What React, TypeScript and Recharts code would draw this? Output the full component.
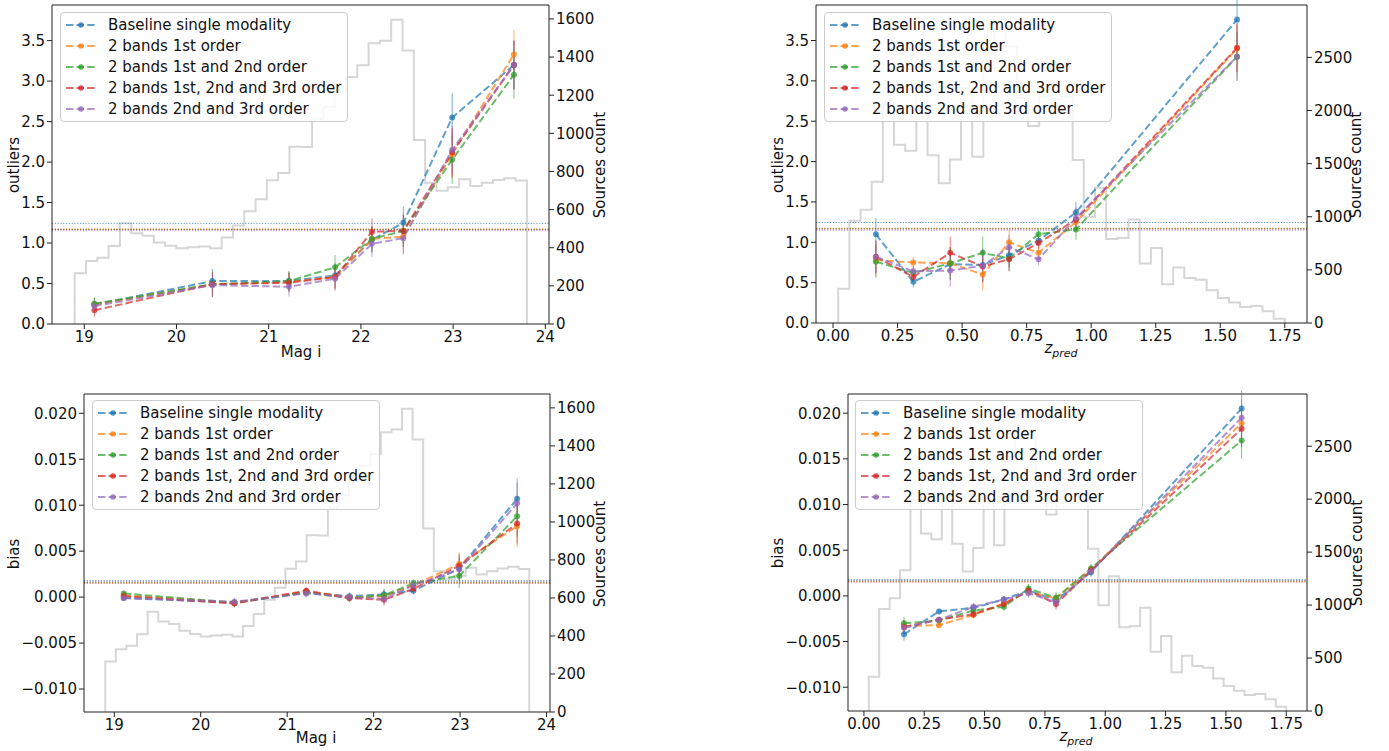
import React from 'react';
import { ComposedChart, Line, XAxis, YAxis, ErrorBar, ReferenceLine, Legend } from 'recharts';

const SERIES_NAMES = [
  'Baseline single modality',
  '2 bands 1st order',
  '2 bands 1st and 2nd order',
  '2 bands 1st, 2nd and 3rd order',
  '2 bands 2nd and 3rd order',
];
const COLORS = ['#1f77b4', '#ff7f0e', '#2ca02c', '#d62728', '#9467bd'];

// x positions of the binned points
const magX = [19.11, 20.39, 21.22, 21.72, 22.12, 22.46, 22.99, 23.66];
const zX = [0.166, 0.311, 0.454, 0.58, 0.682, 0.796, 0.941, 1.565];

// outliers vs Mag i
const magOutBaseline = [0.24, 0.53, 0.53, 0.6, 1.04, 1.25, 2.55, 3.2];
const magOut1st = [0.24, 0.49, 0.52, 0.58, 1.05, 1.08, 2.1, 3.33];
const magOut12 = [0.25, 0.49, 0.53, 0.7, 1.05, 1.15, 2.03, 3.08];
const magOut123 = [0.17, 0.49, 0.51, 0.58, 1.14, 1.15, 2.12, 3.2];
const magOut23 = [0.22, 0.48, 0.46, 0.56, 0.99, 1.06, 2.15, 3.2];
const magOutErr = [0.08, 0.15, 0.12, 0.15, 0.16, 0.2, 0.3, 0.3];
const magOutMeans = [1.243, 1.172, 1.168, 1.17, 1.152];

// outliers vs z_pred
const zOutBaseline = [1.1, 0.51, 0.73, 0.72, 0.84, 1.02, 1.37, 3.76];
const zOut1st = [0.78, 0.75, 0.74, 0.6, 1.0, 0.87, 1.25, 3.4];
const zOut12 = [0.76, 0.62, 0.74, 0.87, 0.8, 1.1, 1.16, 3.3];
const zOut123 = [0.82, 0.57, 0.87, 0.7, 0.79, 0.99, 1.28, 3.41];
const zOut23 = [0.82, 0.64, 0.65, 0.71, 0.94, 0.79, 1.3, 3.3];
const zOutErr = [0.2, 0.07, 0.2, 0.2, 0.15, 0.07, 0.13, 0.3];
const zOutMeans = [1.245, 1.175, 1.17, 1.165, 1.15];

// bias vs Mag i
const magBiasBaseline = [-0.0001, -0.0006, 0.0005, 0.0001, 0.0003, 0.0007, 0.0031, 0.0107];
const magBias1st = [0.0002, -0.0006, 0.0006, 0.0, 0.0001, 0.0013, 0.0036, 0.0077];
const magBias12 = [0.0004, -0.0006, 0.0005, -0.0001, 0.0002, 0.0015, 0.0023, 0.0088];
const magBias123 = [0.0001, -0.0007, 0.0007, -0.0001, -0.0003, 0.0009, 0.0034, 0.008];
const magBias23 = [-0.0001, -0.0005, 0.0004, 0.0, -0.0002, 0.0013, 0.003, 0.0102];
const magBiasErr = [0.0003, 0.0004, 0.0004, 0.0004, 0.0006, 0.0004, 0.0013, 0.0022];
const magBiasMeans = [0.00178, 0.00155, 0.00157, 0.00153, 0.00172];

// bias vs z_pred
const zBiasBaseline = [-0.0042, -0.0017, -0.0013, -0.0004, 0.0006, -0.0005, 0.0026, 0.0205];
const zBias1st = [-0.0033, -0.0032, -0.0021, -0.0008, 0.0005, -0.0003, 0.0029, 0.0189];
const zBias12 = [-0.003, -0.0027, -0.0016, -0.0012, 0.0008, -0.0002, 0.003, 0.017];
const zBias123 = [-0.0034, -0.0026, -0.002, -0.0009, 0.0006, -0.0009, 0.0028, 0.0183];
const zBias23 = [-0.0035, -0.0026, -0.0012, -0.0004, 0.0003, -0.0007, 0.0027, 0.0195];
const zBiasErr = [0.0007, 0.0003, 0.0004, 0.0004, 0.0005, 0.0006, 0.0005, 0.002];
const zBiasMeans = [0.00178, 0.0016, 0.00166, 0.00152, 0.00172];

// source count histograms (40 bins each)
const magRange = [18.896, 23.8];
const magCounts = [
  266, 330, 348, 409, 528, 476, 463, 428, 411, 397, 402, 406, 397, 453, 516, 591, 654, 754, 792, 930,
  928, 1075, 1140, 1219, 1296, 1357, 1472, 1486, 1595, 1434, 965, 741, 699, 717, 759, 724, 741, 755, 764, 752,
];
const zRange = [0.02, 1.75];
const zCounts = [
  323, 962, 1065, 1330, 2055, 1677, 1622, 2160, 1580, 1316, 1540, 2210, 1564, 2400, 2850, 2600, 2120, 1855, 2129, 2104,
  2126, 1533, 998, 1272, 790, 800, 974, 559, 707, 365, 522, 424, 408, 308, 236, 192, 151, 160, 110, 41,
];

// ticks
const magTicks = [19, 20, 21, 22, 23, 24];
const zTicks = [0, 0.25, 0.5, 0.75, 1.0, 1.25, 1.5, 1.75];
const outTicks = [0, 0.5, 1.0, 1.5, 2.0, 2.5, 3.0, 3.5];
const biasTicks = [-0.01, -0.005, 0, 0.005, 0.01, 0.015, 0.02];
const magCountTicks = [0, 200, 400, 600, 800, 1000, 1200, 1400, 1600];
const zCountTicks = [0, 500, 1000, 1500, 2000, 2500];

// histogram drawn as a step outline (matplotlib histtype="step")
function stepData(range: number[], counts: number[]) {
  const w = (range[1] - range[0]) / counts.length;
  const pts = [{ x: range[0], c: 0 }];
  counts.forEach((c, i) => pts.push({ x: range[0] + i * w, c }));
  pts.push({ x: range[1], c: 0 });
  return pts;
}

const fmt1 = (v: number) => v.toFixed(1);
const fmt2 = (v: number) => v.toFixed(2);
const fmtBias = (v: number) => (v < 0 ? '\u2212' : '') + Math.abs(v).toFixed(3);
const fmtInt = (v: number) => String(v);

const TICK = { fill: '#111', fontSize: 15 };
const AXIS = '#222';

const LegendBox = () => (
  <div
    style={{
      border: '1px solid #cccccc',
      borderRadius: 4,
      background: 'rgba(255,255,255,0.8)',
      padding: '2px 6px 2px 5px',
      fontSize: 15,
      color: '#111',
      fontFamily: '"DejaVu Sans", sans-serif',
    }}
  >
    {SERIES_NAMES.map((n, i) => (
      <div key={n} style={{ display: 'flex', alignItems: 'center', height: 20.8, whiteSpace: 'nowrap' }}>
        <svg width={30} height={10} style={{ marginRight: 12, flex: 'none' }}>
          <line x1={0} y1={5} x2={30} y2={5} stroke={COLORS[i]} strokeOpacity={0.7} strokeWidth={2} strokeDasharray="7.4 3.2" />
          <circle cx={15} cy={5} r={2.8} fill={COLORS[i]} fillOpacity={0.8} />
        </svg>
        <span>{n}</span>
      </div>
    ))}
  </div>
);

interface PanelProps {
  left: number;
  top: number;
  width: number;
  height: number;
  margin: { top: number; right: number; bottom: number; left: number };
  leftW: number;
  xH: number;
  xDomain: number[];
  xTicks: number[];
  xFmt: (v: number) => string;
  yDomain: number[];
  yTicks: number[];
  yFmt: (v: number) => string;
  rDomain: number[];
  rTicks: number[];
  hist: { x: number; c: number }[];
  xs: number[];
  series: number[][];
  err: number[];
  means: number[];
  legendAt: { left: number; top: number };
}

const Panel = (p: PanelProps) => (
  <div style={{ position: 'absolute', left: p.left, top: p.top }}>
    <ComposedChart width={p.width} height={p.height} margin={p.margin}>
      <XAxis
        xAxisId="b"
        dataKey="x"
        type="number"
        domain={p.xDomain}
        ticks={p.xTicks}
        tickFormatter={p.xFmt}
        interval={0}
        allowDataOverflow
        height={p.xH}
        stroke={AXIS}
        tick={TICK}
        tickSize={5}
      />
      <YAxis
        yAxisId="l"
        type="number"
        domain={p.yDomain}
        ticks={p.yTicks}
        tickFormatter={p.yFmt}
        interval={0}
        allowDataOverflow
        width={p.leftW}
        stroke={AXIS}
        tick={TICK}
        tickSize={5}
      />
      <YAxis
        yAxisId="r"
        orientation="right"
        type="number"
        domain={p.rDomain}
        ticks={p.rTicks}
        tickFormatter={fmtInt}
        interval={0}
        allowDataOverflow
        width={60}
        stroke={AXIS}
        tick={TICK}
        tickSize={5}
      />
      <Line
        xAxisId="b"
        yAxisId="r"
        data={p.hist}
        dataKey="c"
        type="stepAfter"
        stroke="#d6d6d6"
        strokeWidth={2}
        dot={false}
        activeDot={false}
        isAnimationActive={false}
      />
      {p.means.map((v, i) => (
        <ReferenceLine
          key={'m' + i}
          xAxisId="b"
          yAxisId="l"
          y={v}
          stroke={COLORS[i]}
          strokeWidth={1}
          strokeOpacity={0.75}
          strokeDasharray="1.2 1.6"
        />
      ))}
      {/* top spine */}
      <ReferenceLine xAxisId="b" yAxisId="l" y={p.yDomain[1]} stroke={AXIS} strokeWidth={1} />
      {p.series.map((ys, i) => (
        <Line
          key={'s' + i}
          xAxisId="b"
          yAxisId="l"
          data={p.xs.map((x, j) => ({ x, y: ys[j], e: p.err[j] }))}
          dataKey="y"
          type="linear"
          stroke={COLORS[i]}
          strokeOpacity={0.7}
          strokeWidth={2}
          strokeDasharray="7.4 3.2"
          dot={{ r: 3, fill: COLORS[i], fillOpacity: 0.75, stroke: 'none', strokeDasharray: '0' }}
          activeDot={false}
          isAnimationActive={false}
        >
          <ErrorBar dataKey="e" direction="y" width={0} stroke={COLORS[i]} strokeWidth={1} strokeOpacity={0.6} />
        </Line>
      ))}
      <Legend
        layout="vertical"
        align="center"
        verticalAlign="middle"
        wrapperStyle={{ left: p.legendAt.left, top: p.legendAt.top, width: 'auto', height: 'auto' }}
        content={() => <LegendBox />}
      />
    </ComposedChart>
  </div>
);

const Title = ({ x, y, rotate, children }: { x: number; y: number; rotate?: boolean; children: React.ReactNode }) => (
  <div
    style={{
      position: 'absolute',
      left: x,
      top: y,
      transform: `translate(-50%, -50%)${rotate ? ' rotate(-90deg)' : ''}`,
      fontSize: 15,
      lineHeight: 1,
      whiteSpace: 'nowrap',
      color: '#111',
    }}
  >
    {children}
  </div>
);

const ZPred = () => (
  <span>
    <i>z</i>
    <i style={{ fontSize: 11, verticalAlign: -4 }}>pred</i>
  </span>
);

export default function App() {
  const magHist = stepData(magRange, magCounts);
  const zHist = stepData(zRange, zCounts);
  const magDom = [18.65, 24.04];
  const zDom = [-0.066, 1.836];
  return (
    <div
      style={{
        position: 'absolute',
        left: 0,
        top: 0,
        width: 1389,
        height: 751,
        background: '#fff',
        overflow: 'hidden',
        fontFamily: '"DejaVu Sans", sans-serif',
      }}
    >
      <Panel
        left={0}
        top={0}
        width={625}
        height={375}
        margin={{ top: 5, right: 16, bottom: 6, left: 12 }}
        leftW={40}
        xH={45}
        xDomain={magDom}
        xTicks={magTicks}
        xFmt={fmtInt}
        yDomain={[0, 3.94]}
        yTicks={outTicks}
        yFmt={fmt1}
        rDomain={[0, 1673]}
        rTicks={magCountTicks}
        hist={magHist}
        xs={magX}
        series={[magOutBaseline, magOut1st, magOut12, magOut123, magOut23]}
        err={magOutErr}
        means={magOutMeans}
        legendAt={{ left: 60, top: 12 }}
      />
      <Panel
        left={760}
        top={0}
        width={629}
        height={375}
        margin={{ top: 5, right: 22, bottom: 7, left: 12 }}
        leftW={44}
        xH={45}
        xDomain={zDom}
        xTicks={zTicks}
        xFmt={fmt2}
        yDomain={[0, 3.94]}
        yTicks={outTicks}
        yFmt={fmt1}
        rDomain={[0, 2993]}
        rTicks={zCountTicks}
        hist={zHist}
        xs={zX}
        series={[zOutBaseline, zOut1st, zOut12, zOut123, zOut23]}
        err={zOutErr}
        means={zOutMeans}
        legendAt={{ left: 64, top: 12 }}
      />
      <Panel
        left={0}
        top={378}
        width={625}
        height={373}
        margin={{ top: 16, right: 15, bottom: 4, left: 12 }}
        leftW={72}
        xH={35}
        xDomain={magDom}
        xTicks={magTicks}
        xFmt={fmtInt}
        yDomain={[-0.0125, 0.0221]}
        yTicks={biasTicks}
        yFmt={fmtBias}
        rDomain={[0, 1673]}
        rTicks={magCountTicks}
        hist={magHist}
        xs={magX}
        series={[magBiasBaseline, magBias1st, magBias12, magBias123, magBias23]}
        err={magBiasErr}
        means={magBiasMeans}
        legendAt={{ left: 92, top: 22 }}
      />
      <Panel
        left={760}
        top={378}
        width={629}
        height={373}
        margin={{ top: 16, right: 22, bottom: 5, left: 12 }}
        leftW={76}
        xH={35}
        xDomain={zDom}
        xTicks={zTicks}
        xFmt={fmt2}
        yDomain={[-0.0126, 0.0221]}
        yTicks={biasTicks}
        yFmt={fmtBias}
        rDomain={[0, 2993]}
        rTicks={zCountTicks}
        hist={zHist}
        xs={zX}
        series={[zBiasBaseline, zBias1st, zBias12, zBias123, zBias23]}
        err={zBiasErr}
        means={zBiasMeans}
        legendAt={{ left: 95, top: 22 }}
      />

      <Title x={14} y={165} rotate>outliers</Title>
      <Title x={600} y={165} rotate>Sources count</Title>
      <Title x={301} y={352}>Mag i</Title>

      <Title x={778} y={165} rotate>outliers</Title>
      <Title x={1356} y={165} rotate>Sources count</Title>
      <Title x={1061} y={350}><ZPred /></Title>

      <Title x={14} y={554} rotate>bias</Title>
      <Title x={600} y={554} rotate>Sources count</Title>
      <Title x={316} y={738}>Mag i</Title>

      <Title x={778} y={553} rotate>bias</Title>
      <Title x={1357} y={553} rotate>Sources count</Title>
      <Title x={1076} y={738}><ZPred /></Title>
    </div>
  );
}
